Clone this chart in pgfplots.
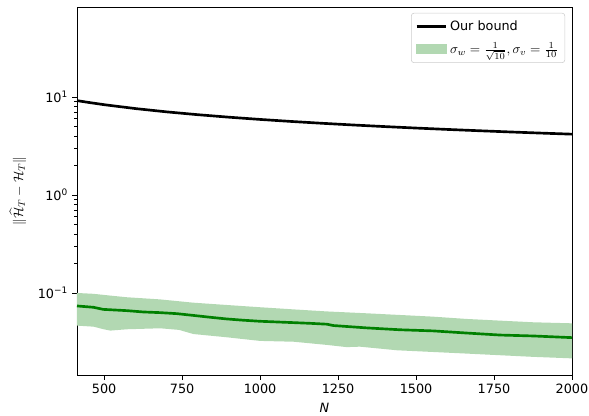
\documentclass[border=0pt]{standalone}
\usepackage{pgfplots}
\pgfplotsset{compat=1.18}
\usepgfplotslibrary{fillbetween}
\usetikzlibrary{calc}
\usepackage{fontspec}
\setmainfont{DejaVu Sans}
\definecolor{bandgreen}{RGB}{178,216,178}
\definecolor{mgreen}{RGB}{0,128,0}
\begin{document}
\fontsize{9.6}{11.5}\selectfont
\begin{tikzpicture}
\begin{axis}[
  scale only axis, width=371.25pt, height=276pt,
  ymode=log, xmin=413, xmax=2000, ymin=0.01455, ymax=83,
  xtick={500,750,1000,1250,1500,1750,2000},
  ytick={0.1,1,10},
  yticklabels={10\textsuperscript{−1},10\textsuperscript{0},10\textsuperscript{1}},
  /pgf/number format/assume math mode=true,
  /pgf/number format/1000 sep={},
  tick align=outside, tick pos=left,
  major tick length=3.4pt, minor tick length=1.9pt,
  axis line style={line width=0.6pt},
  every tick/.style={black, line width=0.6pt},
  minor tick style={line width=0.45pt},
  xlabel={\textit{N}},
  ylabel={$\|\widehat{\mathcal{H}}_T - \mathcal{H}_T\|$},
  x label style={at={(axis description cs:0.5,-0.0897)}, anchor=center},
  y label style={at={(axis description cs:-0.1192,0.5)}, anchor=center},
  legend style={at={(rel axis cs:0.986,0.984)}, anchor=north east,
    draw=black!20, rounded corners=2pt, fill=white,
    inner xsep=3pt, inner ysep=3.5pt, row sep=3.5pt},
  legend cell align=left,
]
\addplot[name path=upper, draw=none, forget plot] coordinates {
(413,0.100)(466,0.098)(520,0.094)(573,0.0904)(679,0.086)(786,0.0796)(893,0.0754)(1000,0.0715)(1107,0.068)(1214,0.0648)(1342,0.062)(1449,0.0596)(1555,0.0573)(1662,0.0543)(1769,0.0522)(1876,0.0502)(2000,0.049)};
\addplot[name path=lower, draw=none, forget plot] coordinates {
(413,0.0464)(466,0.0453)(500,0.0425)(520,0.0413)(573,0.0426)(679,0.0436)(740,0.042)(786,0.0381)(893,0.0353)(1000,0.0324)(1107,0.0318)(1214,0.0295)(1278,0.0280)(1320,0.0283)(1439,0.026)(1657,0.0241)(1872,0.0223)(2000,0.0215)};
\addplot[fill=bandgreen, draw=none, forget plot] fill between[of=upper and lower];
\addplot[black, line width=2pt, forget plot] coordinates {
(413,9.19)(450,8.81)(500,8.354)(600,7.626)(700,7.060)(800,6.604)(900,6.227)(1000,5.907)(1100,5.632)(1200,5.392)(1300,5.181)(1400,4.992)(1500,4.823)(1600,4.670)(1700,4.531)(1800,4.403)(1900,4.285)(2000,4.177)};
\addplot[mgreen, line width=2pt, forget plot] coordinates {
(413,0.0737)(466,0.0714)(497,0.068)(573,0.066)(625,0.064)(679,0.063)(733,0.0615)(786,0.059)(840,0.0565)(893,0.0543)(946,0.0527)(1000,0.0514)(1053,0.0506)(1107,0.0498)(1160,0.049)(1214,0.048)(1235,0.0465)(1290,0.0452)(1342,0.0440)(1449,0.0421)(1555,0.0410)(1662,0.0390)(1769,0.0372)(1876,0.0364)(2000,0.0350)};
\addlegendimage{legend image code/.code={\draw[black, line width=2pt, sharp corners] (0pt,0pt) -- (22pt,0pt);}}
\addlegendentry{Our bound}
\addlegendimage{legend image code/.code={\fill[bandgreen, sharp corners] (0pt,-3.6pt) rectangle (22pt,3.6pt);}}
\addlegendentry{$\sigma_w = \frac{1}{\sqrt{10}}, \sigma_v = \frac{1}{10}$}
\end{axis}
\pgfresetboundingbox
\path ($(current axis.south west)+(-57.75pt,-30.75pt)$) rectangle ($(current axis.north east)+(12.75pt,5.25pt)$);
\end{tikzpicture}
\end{document}
